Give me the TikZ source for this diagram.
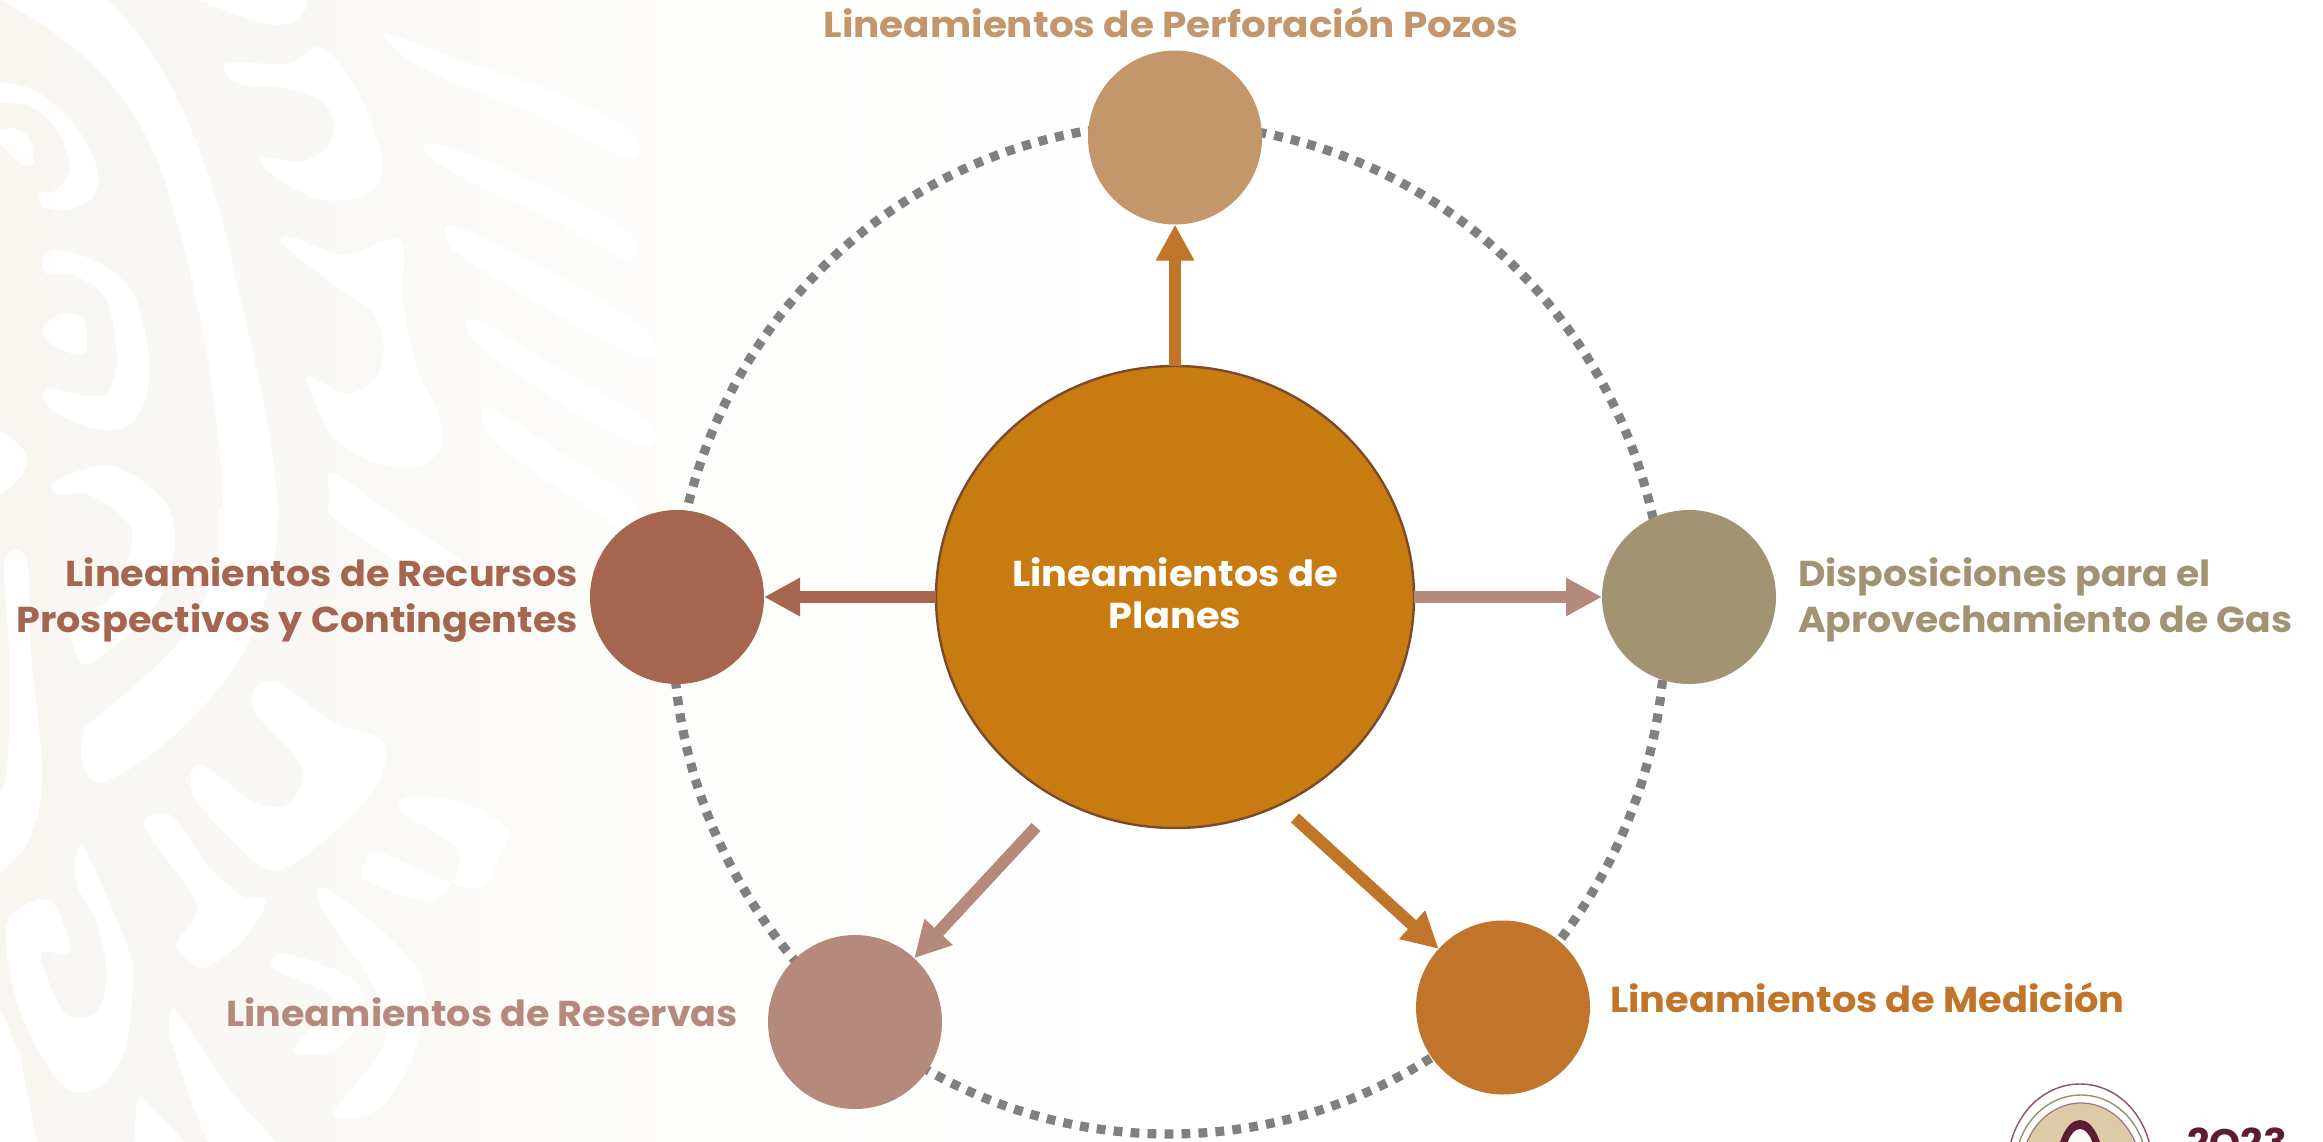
\documentclass[tikz,border=0pt]{standalone}
\usepackage{fontspec}
\usetikzlibrary{arrows.meta,shapes.geometric}
\newfontfamily\labfont{Poppins}[FakeStretch=1.065]
\definecolor{cTop}{HTML}{C3976B}
\definecolor{cRight}{HTML}{A29473}
\definecolor{cBR}{HTML}{C1752A}
\definecolor{cBL}{HTML}{B5897C}
\definecolor{cLeft}{HTML}{A5654F}
\definecolor{cCtr}{HTML}{C77B10}
\definecolor{cEdge}{HTML}{7B4A2B}
\definecolor{cDots}{HTML}{808080}
\definecolor{cMaroon}{HTML}{5E1B33}
\definecolor{cCoin}{HTML}{DCCBA6}
\pgfdeclarehorizontalshading{bgshade}{100bp}{
  rgb(0bp)=(0.976,0.965,0.949);
  rgb(25bp)=(0.976,0.965,0.949);
  rgb(31.5bp)=(0.980,0.973,0.961);
  rgb(36bp)=(0.988,0.984,0.973);
  rgb(40bp)=(0.992,0.992,0.984);
  rgb(46.5bp)=(0.996,0.996,0.996);
  rgb(50bp)=(1,1,1);
  rgb(100bp)=(1,1,1)}
\tikzset{
  bub/.style={circle,minimum size=87pt,inner sep=0pt,outer sep=0pt,draw=none},
  lab/.style={font=\labfont\bfseries\fontsize{18}{23}\selectfont,inner sep=0pt,outer sep=0pt},
  spoke/.style={line width=6pt,-{Triangle[length=18pt,width=18pt]}},
  wm/.style={fill=white,draw=none}
}
\newcommand{\blob}[1]{\fill[wm] plot[smooth cycle,tension=0.55] coordinates {#1};}
\begin{document}
\begin{tikzpicture}[x=0.5pt,y=-0.5pt]
\useasboundingbox (0,0) rectangle (2323,1141);
\clip (0,0) rectangle (2323,1141);
\shade[shading=bgshade] (0,0) rectangle (2323,1141);
% watermark, upper left
\begin{scope}[xscale=.3333,yscale=.3333]
\fill[wm] (0,0) -- (320,0) .. controls (520,180) and (640,520) .. (700,800) .. controls (780,1150) and (830,1350) .. (835,1560) -- (670,1560) .. controls (660,1200) and (600,900) .. (500,560) .. controls (420,300) and (250,130) .. (0,0) -- cycle;
\blob{(600,-10)(900,-10)(900,50)(830,75)(700,40)}
\blob{(680,190)(870,190)(960,140)(1060,250)(1140,450)(1130,560)(1040,600)(930,590)(800,510)(790,470)(900,485)(980,440)(1005,370)(960,300)(850,265)(710,250)}
\blob{(850,735)(875,710)(1030,765)(1200,720)(1210,900)(1250,1100)(1320,1250)(1320,1350)(1250,1400)(1130,1390)(1000,1310)(930,1170)(930,1130)(1040,1180)(1130,1130)(1150,1030)(1110,930)(1010,860)}
\blob{(1160,100)(1350,170)(1700,290)(1900,400)(1880,470)(1600,340)(1340,240)(1200,160)}
\blob{(1280,430)(1400,460)(1700,590)(1900,710)(1880,780)(1700,680)(1400,540)(1290,470)}
\blob{(1340,680)(1420,700)(1700,840)(1950,1000)(1930,1070)(1700,960)(1400,780)(1345,730)}
\blob{(1430,960)(1700,1120)(1950,1270)(1930,1340)(1700,1220)(1430,1030)}
\blob{(1460,1220)(1700,1370)(1900,1500)(1900,1600)(1700,1480)(1480,1320)}
\blob{(1000,1420)(1200,1560)(1400,1700)(1300,1750)(1010,1560)(990,1500)}
\blob{(-40,245)(100,270)(220,370)(290,500)(280,590)(200,630)(130,620)(120,580)(170,570)(210,500)(170,390)(90,320)(-40,300)}
\blob{(-20,400)(40,385)(90,420)(100,490)(60,490)(10,440)}
\blob{(130,770)(180,750)(300,790)(400,880)(445,1050)(440,1190)(380,1280)(280,1285)(170,1240)(130,1200)(150,1165)(240,1185)(320,1180)(350,1080)(320,900)(230,830)(140,820)}
\blob{(130,980)(190,940)(250,960)(260,1050)(230,1065)(150,1030)}
\blob{(-30,1290)(70,1350)(70,1420)(-30,1490)}
\end{scope}
% watermark, band and hooks, from the wider view
\begin{scope}[xscale=.4464,yscale=.7277]
\fill[wm] (490,700) .. controls (495,760) and (480,800) .. (430,860) .. controls (360,920) and (260,960) .. (190,1000) .. controls (170,1040) and (190,1080) .. (230,1075) .. controls (340,1050) and (480,970) .. (560,880) .. controls (610,810) and (625,760) .. (620,700) -- cycle;
\blob{(125,660)(250,640)(370,690)(390,760)(340,840)(230,900)(180,910)(160,850)(250,820)(295,730)(200,680)(130,680)}
\blob{(10,770)(60,770)(70,900)(95,1070)(60,1160)(-20,1200)(-20,1120)(15,1060)(20,900)}
\end{scope}
% watermark, lower left
\begin{scope}[shift={(0,520)},xscale=.3333,yscale=.396]
\blob{(760,430)(830,410)(1000,510)(1150,560)(1130,670)(1000,790)(850,880)(760,860)(600,720)(570,650)(610,620)(760,710)(860,720)(910,650)(880,590)(770,490)}
\blob{(440,750)(520,750)(620,870)(730,950)(800,960)(730,1060)(620,1130)(560,1110)(530,1070)(580,1010)(580,950)(450,800)}
\blob{(230,840)(260,840)(370,1050)(400,1150)(370,1350)(280,1440)(180,1420)(60,1240)(20,1020)(150,960)(210,1090)(130,1090)(130,1130)(200,1250)(290,1240)(320,1150)(290,1020)(230,920)}
\fill[wm] (-5,1220) -- (60,1350) -- (115,1590) -- (-5,1590) -- cycle;
\blob{(510,1250)(540,1250)(700,1450)(840,1600)(650,1600)(520,1330)}
\blob{(410,1480)(440,1470)(570,1600)(420,1600)}
\blob{(820,1130)(860,1095)(1060,1160)(1085,1250)(1000,1340)(880,1340)(970,1250)(990,1200)}
\blob{(960,970)(1000,940)(1250,1130)(1260,1300)(1150,1480)(1000,1500)(1150,1330)(1130,1190)}
\blob{(1100,860)(1140,840)(1420,930)(1500,850)(1520,780)(1380,710)(1220,700)(1210,740)(1380,840)(1300,960)(1100,910)}
\end{scope}
% dotted ring
\draw[cDots,line width=4.6pt,dash pattern=on 4.4pt off 4.1pt] (1169,629) ellipse [x radius=496,y radius=505];
% central node and outer nodes
\node[ellipse,minimum width=239pt,minimum height=231pt,inner sep=0pt,outer sep=0pt,fill=cCtr,draw=cEdge,line width=1.2pt] (ctr) at (1175,597) {};
\node[lab,text=white,align=center,anchor=base,font=\labfont\bfseries\fontsize{18}{20.7}\selectfont] (ltxt) at (1175,628) {Lineamientos de\\Planes};
\node[bub,fill=cTop] (top) at (1175,137.5) {};
\node[bub,fill=cRight] (right) at (1689,597) {};
\node[bub,fill=cBR] (br) at (1503,1007.5) {};
\node[bub,fill=cBL] (bl) at (855,1022) {};
\node[bub,fill=cLeft] (left) at (677,597) {};
% free ends of the diagonal arrows
\coordinate (sbl) at (1036,827);
\coordinate (sbr) at (1295,818);
% arrows
\draw[spoke,cBR] (ctr.north) -- (top.south);
\draw[spoke,cBL] (ctr.east) -- (right.west);
\draw[spoke,cLeft] (ctr.west) -- (left.east);
\draw[spoke,cBL] (sbl) -- (bl);
\draw[spoke,cBR] (sbr) -- (br);
% labels
\node[lab,text=cTop,anchor=base,xscale=1.015,transform shape] (ltop) at (1171,37) {Lineamientos de Perforación Pozos};
\node[lab,text=cRight,anchor=base west,align=left,xscale=.985,transform shape] (lright) at (1798,632) {Disposiciones para el\\Aprovechamiento de Gas};
\node[lab,text=cBR,anchor=base west] (lbr) at (1610,1012) {Lineamientos de Medición};
\node[lab,text=cBL,anchor=base east,xscale=.993,transform shape] (lbl) at (738,1026) {Lineamientos de Reservas};
\node[lab,text=cLeft,anchor=base east,align=right,xscale=.995,transform shape] (lleft) at (578,632) {Lineamientos de Recursos\\Prospectivos y Contingentes};
% seal and year, cut by the lower edge
\fill[white] (2080,1165) ellipse [x radius=72,y radius=81];
\draw[cMaroon!75,line width=.7pt] (2080,1165) ellipse [x radius=72,y radius=81];
\draw[cMaroon,line width=5pt] (2012,1150) arc [start angle=190,end angle=125,x radius=70,y radius=79];
\draw[cCoin!70!black,line width=.7pt] (2081,1168) ellipse [x radius=66,y radius=73];
\fill[cCoin] (2081,1172) ellipse [x radius=60,y radius=69];
\draw[cMaroon!60,line width=.6pt] (2081,1172) ellipse [x radius=60,y radius=69];
\fill[cMaroon] (2080,1170) ellipse [x radius=24,y radius=50];
\fill[white!90!cCoin] (2080,1172) ellipse [x radius=17,y radius=43];
\node[font=\labfont\bfseries\fontsize{18.5}{24}\selectfont,text=cMaroon,anchor=base west,inner sep=0pt] (yr) at (2187,1155) {2O23};
\end{tikzpicture}
\end{document}
